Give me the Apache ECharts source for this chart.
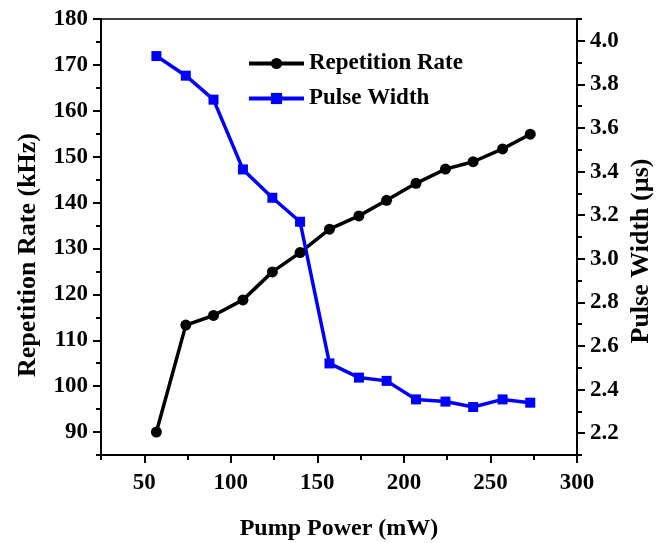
<!DOCTYPE html>
<html>
<head>
<meta charset="utf-8">
<script src="https://cdn.jsdelivr.net/npm/echarts@6/dist/echarts.min.js"></script>
<style>
  html, body { margin: 0; padding: 0; background: #fff; }
  #chart { width: 663px; height: 543px; }
</style>
</head>
<body>
<div id="chart"></div>
<script>
// Pump power (mW) and the measured Q-switching characteristics
const pumpPower = [57, 74, 90, 107, 124, 140, 157, 174, 190, 207, 224, 240, 257, 273];
const repetitionRate = [90.0, 113.3, 115.4, 118.8, 124.9, 129.1, 134.2, 137.1, 140.5, 144.2, 147.3, 148.9, 151.7, 154.9];
const pulseWidth = [3.93, 3.84, 3.73, 3.41, 3.28, 3.17, 2.52, 2.455, 2.44, 2.355, 2.345, 2.32, 2.355, 2.34];

// Tick positions
const xTicks = [50, 100, 150, 200, 250, 300];
const xMinorTicks = [25, 75, 125, 175, 225, 275];
const rateTicks = [90, 100, 110, 120, 130, 140, 150, 160, 170, 180];
const rateMinorTicks = [85, 95, 105, 115, 125, 135, 145, 155, 165, 175];
const widthTicks = [2.2, 2.4, 2.6, 2.8, 3.0, 3.2, 3.4, 3.6, 3.8, 4.0];
const widthMinorTicks = [2.1, 2.3, 2.5, 2.7, 2.9, 3.1, 3.3, 3.5, 3.7, 3.9, 4.1];

const FONT = 'Liberation Serif';
const AXIS_W = 2;

const labelStyle = { fontFamily: FONT, fontWeight: 'bold', fontSize: 23, color: '#000' };

function majorAxis(base) {
  return Object.assign({
    type: 'value',
    axisLine: { show: true, onZero: false, lineStyle: { color: '#000', width: AXIS_W } },
    axisTick: { show: true, inside: false, length: 8, lineStyle: { color: '#000', width: AXIS_W } },
    splitLine: { show: false }
  }, base);
}
function minorAxis(base) {
  return Object.assign({
    type: 'value',
    axisLine: { show: false, onZero: false },
    axisTick: { show: true, inside: false, length: 5, lineStyle: { color: '#000', width: AXIS_W } },
    axisLabel: { show: false },
    splitLine: { show: false }
  }, base);
}

const chart = echarts.init(document.getElementById('chart'), null, { renderer: 'canvas' });

chart.setOption({
  animation: false,
  backgroundColor: '#fff',
  grid: {
    left: 101, right: 86, top: 19, bottom: 88,
    outerBoundsMode: 'none', containLabel: false,
    show: true, borderColor: '#000', borderWidth: 1.5, backgroundColor: 'transparent'
  },
  legend: {
    data: ['Repetition Rate', 'Pulse Width'],
    orient: 'vertical',
    left: 247, top: 52, padding: 0,
    itemWidth: 55, itemHeight: 14, itemGap: 12,
    lineStyle: { width: 4 },
    textStyle: { fontFamily: FONT, fontWeight: 'bold', fontSize: 23, color: '#000', lineHeight: 20 }
  },
  xAxis: [
    majorAxis({
      position: 'bottom', min: 25, max: 300,
      name: 'Pump Power (mW)', nameLocation: 'middle', nameGap: 62,
      nameTextStyle: { fontFamily: FONT, fontWeight: 'bold', fontSize: 24, color: '#000' },
      axisTick: { show: true, length: 8, customValues: xTicks, lineStyle: { color: '#000', width: AXIS_W } },
      axisLabel: Object.assign({ customValues: xTicks, margin: 17 }, labelStyle)
    }),
    minorAxis({
      position: 'bottom', min: 25, max: 300,
      axisTick: { show: true, length: 5, customValues: xMinorTicks, lineStyle: { color: '#000', width: AXIS_W } }
    })
  ],
  yAxis: [
    majorAxis({
      position: 'left', min: 85, max: 180,
      axisTick: { show: true, length: 8, customValues: rateTicks, lineStyle: { color: '#000', width: AXIS_W } },
      axisLabel: Object.assign({ customValues: rateTicks, margin: 13 }, labelStyle)
    }),
    majorAxis({
      position: 'right', min: 2.1, max: 4.1,
      axisTick: { show: true, length: 8, customValues: widthTicks, lineStyle: { color: '#000', width: AXIS_W } },
      axisLabel: Object.assign({ customValues: widthTicks, margin: 13, formatter: v => v.toFixed(1) }, labelStyle)
    }),
    minorAxis({
      position: 'left', min: 85, max: 180,
      axisTick: { show: true, length: 5, customValues: rateMinorTicks, lineStyle: { color: '#000', width: AXIS_W } }
    }),
    minorAxis({
      position: 'right', min: 2.1, max: 4.1,
      axisTick: { show: true, length: 5, customValues: widthMinorTicks, lineStyle: { color: '#000', width: AXIS_W } }
    })
  ],
  graphic: [
    {
      type: 'text', x: 28, y: 255, rotation: Math.PI / 2,
      style: { text: 'Repetition Rate (kHz)', fontFamily: FONT, fontWeight: 'bold', fontSize: 26,
               fill: '#000', align: 'center', verticalAlign: 'middle' }
    },
    {
      type: 'text', x: 641, y: 251, rotation: Math.PI / 2,
      style: { text: 'Pulse Width (µs)', fontFamily: FONT, fontWeight: 'bold', fontSize: 26,
               fill: '#000', align: 'center', verticalAlign: 'middle' }
    }
  ],
  series: [
    {
      name: 'Repetition Rate', type: 'line', xAxisIndex: 0, yAxisIndex: 0,
      data: pumpPower.map((p, i) => [p, repetitionRate[i]]),
      symbol: 'circle', symbolSize: 11,
      itemStyle: { color: '#000' },
      lineStyle: { color: '#000', width: 3.5 }
    },
    {
      name: 'Pulse Width', type: 'line', xAxisIndex: 0, yAxisIndex: 1,
      data: pumpPower.map((p, i) => [p, pulseWidth[i]]),
      symbol: 'rect', symbolSize: 10,
      itemStyle: { color: '#0000ff' },
      lineStyle: { color: '#0000ff', width: 3.5 }
    }
  ]
});
</script>
</body>
</html>
